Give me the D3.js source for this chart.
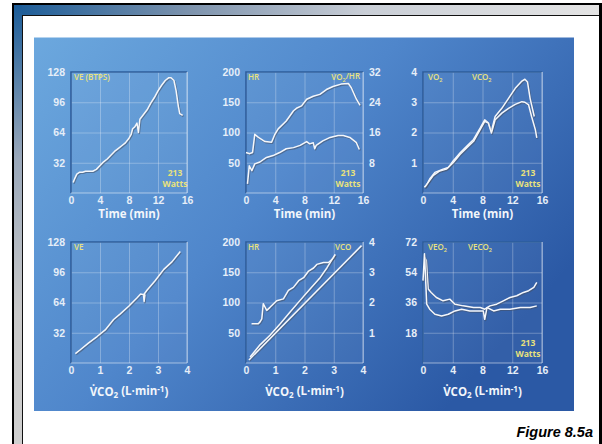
<!DOCTYPE html>
<html>
<head>
<meta charset="utf-8">
<script src="https://cdn.jsdelivr.net/npm/d3@7"></script>
<style>
  body { margin: 0; background: #fff; }
  svg { display: block; font-family: "Open Sans", sans-serif; }
  .tick text { fill: #e6eef8; font-weight: 700; font-size: 10.5px; }
  .grid line { stroke: rgba(255,255,255,0.28); stroke-width: 1; }
</style>
</head>
<body>
<svg id="chart"></svg>
<script>
// ---- data ----
// panel 1: VE (BTPS) vs time
const veT = [0.3,0.5,0.8,1.2,1.6,2,2.5,3,3.5,4,4.5,5,5.5,6,6.5,7,7.5,8,8.3,8.5,8.8,9.1,9.3,9.5,10,10.5,11,11.5,12,12.5,13,13.5,13.8,14.2,14.5,14.8,15,15.4];
const veV = [11,15,20,22,22,23,23,23,25,29,33,36,40,44,47,50,53,58,62,68,70,74,64,78,83,88,95,101,108,114,119,122,122,119,108,92,84,82];

// panel 2: HR (left) and VO2/HR (right) vs time
const hrT = [0,0.5,0.9,1.2,1.7,2.6,3.5,3.95,4.4,5.5,6.5,6.9,7.6,8.3,9.2,10.1,11,11.9,13,14,14.4,15.1,15.6];
const hrV = [67,65,67,97,92,85,84,97,106,119,136,140,144,155,160,163,171,176,180,181,174,155,145];
const o2hrT = [0.2,0.45,0.8,1.2,1.9,2.8,3.7,4.6,5.5,6.5,7.4,8.3,8.7,9.2,9.4,9.6,10.5,11.5,12.6,13.3,14.2,15.1,15.5];
const o2hrV = [2.4,7.2,5.9,7.7,8.2,9.4,9.9,10.7,11.7,12,12.6,13.6,13,13.3,11.7,12.6,13.8,14.7,15.2,15.2,14.7,13.3,11.5];

// panel 3: VO2 and VCO2 vs time
const vco2T = [0.2,0.45,0.9,1.6,2.7,3.4,4.05,5,5.9,6.8,7.7,8.3,8.8,9.2,9.7,10.6,11.5,12.4,13.3,13.7,14.05,14.4,14.96];
const vco2V = [0.19,0.24,0.46,0.68,0.79,0.84,1.06,1.33,1.55,1.77,2.15,2.42,2.31,2.04,2.53,2.8,3.13,3.46,3.7,3.76,3.67,3.13,2.53];
const vo2T = [0.2,0.7,1.35,2.25,3.15,4.05,5,5.9,6.8,7.7,8.3,8.8,9.2,9.7,10.6,11.5,12.4,13.3,13.7,14.2,14.6,15.1,15.3];
const vo2V = [0.19,0.35,0.57,0.73,0.79,1,1.28,1.5,1.71,2.1,2.37,2.31,1.98,2.42,2.64,2.8,2.93,3.02,3,2.91,2.53,2.1,1.82];

// panel 4: VE vs VCO2
const veCo2X = [0.15,0.32,0.6,0.9,1.18,1.47,1.7,1.99,2.28,2.4,2.55,2.52,2.5,2.62,2.9,3.2,3.48,3.77];
const veCo2Y = [10,14,21,28,35,46,52,60,69,73,72,65,72,77,87,99,107,118];

// panel 5: HR (left) and VO2 (right) vs VCO2, plus identity line
const hrCo2X = [0.19,0.42,0.48,0.54,0.59,0.71,0.82,1.05,1.28,1.45,1.62,1.8,1.97,2.14,2.31,2.42,2.65,2.82,3.0,3.05];
const hrCo2Y = [65,65,68,73,98,87,92,103,106,120,125,136,141,152,157,163,166,166,174,179];
const o2Co2X = [0.14,0.48,0.82,1.17,1.5,1.85,2.19,2.54,2.77,2.94,3.05];
const o2Co2Y = [0.2,0.6,0.92,1.3,1.68,2.07,2.45,2.83,3.15,3.42,3.59];
const idX = [0.1,3.95];
const idY = [0.1,3.88];

// panel 6: VE/VO2 and VE/VCO2
const veo2T = [0,0.2,0.5,0.9,1.6,2.5,3.4,4.3,5.2,6.3,7.2,8.1,8.3,8.6,9.5,10.4,11.7,13.1,14.4,15.3];
const veo2V = [49,65,35,32,29,28,29,31,32,31,31,31,26,33,31,32,32,33,33,34];
const veco2T = [0.2,0.45,0.7,1.1,1.8,2.7,3.6,4.3,5.4,6.8,7.7,8.3,9,9.9,10.8,11.7,12.6,13.5,14.2,14.9,15.3];
const veco2V = [63,61,44,42,39,37,38,35,34,33,33,32,34,35,37,39,40,42,43,45,48];

// ticks
const timeTicks = [0,4,8,12,16];
const co2Ticks = [0,1,2,3,4];
const veTicks = [32,64,96,128];
const hrTicks = [50,100,150,200];
const o2hrTicks = [8,16,24,32];
const litreTicks = [1,2,3,4];
const eqTicks = [18,36,54,72];

const width = 602, height = 444;
const yellow = "#e9e27c";
const fmt = d3.format("d");

const svg = d3.select("#chart").attr("width", width).attr("height", height);
const defs = svg.append("defs");

// ---- frame ----
const topGrad = defs.append("linearGradient").attr("id", "topGrad");
[["0%","#1b5c98"],["30%","#7d93ad"],["60%","#c9ced6"],["100%","#e4e4e4"]]
  .forEach(s => topGrad.append("stop").attr("offset", s[0]).attr("stop-color", s[1]));
const sideGrad = defs.append("linearGradient").attr("id", "sideGrad")
  .attr("x1", 0).attr("y1", 0).attr("x2", 0).attr("y2", 1);
[["0%","#1b5c98"],["35%","#9aa8ba"],["70%","#c9c9c9"],["100%","#cfcfcf"]]
  .forEach(s => sideGrad.append("stop").attr("offset", s[0]).attr("stop-color", s[1]));
const panelGrad = defs.append("linearGradient").attr("id", "panelGrad")
  .attr("x1", 0).attr("y1", 0).attr("x2", 1).attr("y2", 0.6);
[["0%","#6ca8de"],["50%","#4f86cb"],["100%","#2b59a5"]]
  .forEach(s => panelGrad.append("stop").attr("offset", s[0]).attr("stop-color", s[1]));

svg.append("rect").attr("x", 12).attr("y", 3).attr("width", 590).attr("height", 445).attr("fill", "#000");
svg.append("rect").attr("x", 14).attr("y", 5).attr("width", 585).attr("height", 10).attr("fill", "url(#topGrad)");
svg.append("rect").attr("x", 14).attr("y", 5).attr("width", 8).attr("height", 440).attr("fill", "url(#sideGrad)");
svg.append("rect").attr("x", 22).attr("y", 15).attr("width", 577).attr("height", 430).attr("fill", "#111");
svg.append("rect").attr("x", 23).attr("y", 16).attr("width", 576).attr("height", 430).attr("fill", "#fff");

svg.append("rect").attr("x", 34).attr("y", 37).attr("width", 540).attr("height", 374).attr("fill", "url(#panelGrad)");
svg.append("line").attr("x1", 34).attr("x2", 574).attr("y1", 37.5).attr("y2", 37.5)
  .attr("stroke", "rgba(255,255,255,0.5)");

svg.append("text").attr("x", 593).attr("y", 437).attr("text-anchor", "end")
  .attr("font-family", "'Liberation Sans', Arial, sans-serif").attr("font-weight", 700)
  .attr("font-style", "italic").attr("font-size", 14.5).attr("fill", "#000").text("Figure 8.5a");

// text with sub/superscripts: parts = [[text, kind], ...]
function rich(sel, parts) {
  let shift = 0;
  parts.forEach(([t, kind]) => {
    const ts = sel.append("tspan").text(t);
    let target = kind === "sub" ? 0.28 : kind === "sup" ? -0.42 : 0;
    if (kind) ts.attr("font-size", "70%");
    const dy = target - shift;
    if (dy !== 0) ts.attr("dy", dy + "em");
    shift = target;
  });
  return sel;
}

const timeTitle = [["Time (min)", ""]];
const co2Title = [["V\u0307CO", ""], ["2", "sub"], [" (L\u00b7min", ""], ["-1", "sup"], [")", ""]];

const panels = [
  { x0: 71, x1: 187, y0: 72, y1: 193, xDom: [0,16], xTicks: timeTicks, yDom: [0,128], yTicks: veTicks,
    title: timeTitle, titleDy: 25, watts: [175, 173],
    series: [{ x: veT, y: veV }],
    labels: [{ x: 74, y: 80, parts: [["VE (BTPS)", ""]] }] },
  { x0: 246, x1: 363, y0: 72, y1: 193, xDom: [0,16], xTicks: timeTicks, yDom: [0,200], yTicks: hrTicks,
    rDom: [0,32], rTicks: o2hrTicks, title: timeTitle, titleDy: 25, watts: [348, 173],
    series: [{ x: hrT, y: hrV }, { x: o2hrT, y: o2hrV, right: true }],
    labels: [{ x: 248, y: 80, parts: [["HR", ""]] },
             { x: 360, y: 80, anchor: "end", parts: [["VO", ""], ["2", "sub"], ["/HR", ""]] }] },
  { x0: 423, x1: 542, y0: 72, y1: 193, xDom: [0,16], xTicks: timeTicks, yDom: [0,4], yTicks: litreTicks,
    title: timeTitle, titleDy: 25, watts: [528, 173],
    series: [{ x: vco2T, y: vco2V }, { x: vo2T, y: vo2V }],
    labels: [{ x: 428, y: 80, parts: [["VO", ""], ["2", "sub"]] },
             { x: 472, y: 80, parts: [["VCO", ""], ["2", "sub"]] }] },
  { x0: 71, x1: 187, y0: 242, y1: 363, xDom: [0,4], xTicks: co2Ticks, yDom: [0,128], yTicks: veTicks,
    title: co2Title, titleDy: 33,
    series: [{ x: veCo2X, y: veCo2Y }],
    labels: [{ x: 74, y: 250, parts: [["VE", ""]] }] },
  { x0: 246, x1: 363, y0: 242, y1: 363, xDom: [0,4], xTicks: co2Ticks, yDom: [0,200], yTicks: hrTicks,
    rDom: [0,4], rTicks: litreTicks, title: co2Title, titleDy: 33,
    series: [{ x: hrCo2X, y: hrCo2Y }, { x: o2Co2X, y: o2Co2Y, right: true }, { x: idX, y: idY, right: true }],
    labels: [{ x: 248, y: 250, parts: [["HR", ""]] },
             { x: 335, y: 250, parts: [["VCO", ""]] }] },
  { x0: 423, x1: 542, y0: 242, y1: 363, xDom: [0,16], xTicks: timeTicks, yDom: [0,72], yTicks: eqTicks,
    title: co2Title, titleDy: 33, watts: [528, 343],
    series: [{ x: veco2T, y: veco2V }, { x: veo2T, y: veo2V }],
    labels: [{ x: 428, y: 250, parts: [["VEO", ""], ["2", "sub"]] },
             { x: 468, y: 250, parts: [["VECO", ""], ["2", "sub"]] }] }
];

panels.forEach(p => {
  const g = svg.append("g");
  const w = p.x1 - p.x0, h = p.y1 - p.y0;
  const x = d3.scaleLinear().domain(p.xDom).range([p.x0, p.x1]);
  const y = d3.scaleLinear().domain(p.yDom).range([p.y1, p.y0]);
  const yr = p.rDom ? d3.scaleLinear().domain(p.rDom).range([p.y1, p.y0]) : null;

  g.append("rect").attr("x", p.x0).attr("y", p.y0).attr("width", w).attr("height", h)
    .attr("fill", "rgba(255,255,255,0.04)");

  // grid + tick labels
  const xa = g.append("g").attr("class", "grid").attr("transform", `translate(0,${p.y1})`)
    .call(d3.axisBottom(x).tickValues(p.xTicks).tickFormat(fmt).tickSize(-h).tickPadding(4));
  xa.select(".domain").remove();
  const ya = g.append("g").attr("class", "grid").attr("transform", `translate(${p.x0},0)`)
    .call(d3.axisLeft(y).tickValues(p.yTicks).tickFormat(fmt).tickSize(-w).tickPadding(6));
  ya.select(".domain").remove();
  if (yr) {
    const ra = g.append("g").attr("transform", `translate(${p.x1},0)`)
      .call(d3.axisRight(yr).tickValues(p.rTicks).tickFormat(fmt).tickSize(0).tickPadding(6));
    ra.select(".domain").remove();
  }

  // inset border: dark top/left, light bottom/right
  g.append("path").attr("d", `M${p.x0},${p.y1}V${p.y0}H${p.x1}`)
    .attr("fill", "none").attr("stroke", "#2d5d9c").attr("stroke-width", 1.6);
  g.append("path").attr("d", `M${p.x0},${p.y1}H${p.x1}V${p.y0}`)
    .attr("fill", "none").attr("stroke", "rgba(255,255,255,0.5)").attr("stroke-width", 1);

  // series
  p.series.forEach(s => {
    const ys = s.right ? yr : y;
    const pts = s.x.map((v, i) => [x(v), ys(s.y[i])]);
    const line = d3.line();
    g.append("path").attr("d", line(pts)).attr("fill", "none")
      .attr("stroke", "rgba(70,80,100,0.55)").attr("stroke-width", 1.7)
      .attr("transform", "translate(0.8,1)").attr("stroke-linejoin", "round");
    g.append("path").attr("d", line(pts)).attr("fill", "none")
      .attr("stroke", "#f5f7fb").attr("stroke-width", 1.5).attr("stroke-linejoin", "round");
  });

  // yellow labels
  p.labels.forEach(l => {
    const t = g.append("text").attr("x", l.x).attr("y", l.y)
      .attr("text-anchor", l.anchor || "start")
      .attr("fill", yellow).attr("font-size", 8).attr("font-weight", 600);
    rich(t, l.parts);
  });
  if (p.watts) {
    g.append("text").attr("x", p.watts[0]).attr("y", p.watts[1] + 3).attr("text-anchor", "middle")
      .attr("fill", yellow).attr("font-size", 8.5).attr("font-weight", 700).text("213");
    g.append("text").attr("x", p.watts[0]).attr("y", p.watts[1] + 14).attr("text-anchor", "middle")
      .attr("fill", yellow).attr("font-size", 8.5).attr("font-weight", 700).text("Watts");
  }

  // axis title
  const tt = g.append("text").attr("x", (p.x0 + p.x1) / 2).attr("y", p.y1 + p.titleDy)
    .attr("text-anchor", "middle").attr("fill", "#f2f6fb")
    .attr("font-size", 11.5).attr("font-weight", 700);
  rich(tt, p.title);
});
</script>
</body>
</html>
